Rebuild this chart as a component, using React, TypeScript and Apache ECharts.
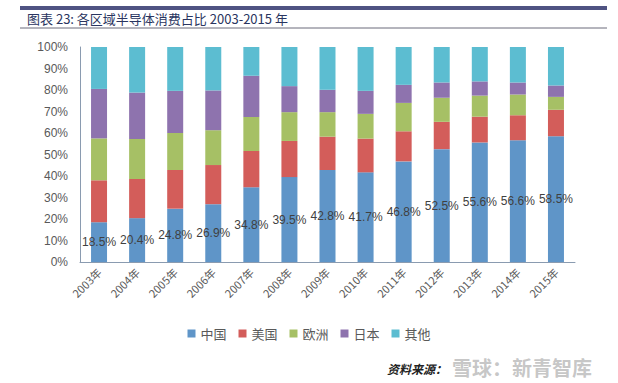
import React, { useEffect, useRef } from "react";
import * as echarts from "echarts";

const years = ["2003年", "2004年", "2005年", "2006年", "2007年", "2008年", "2009年", "2010年", "2011年", "2012年", "2013年", "2014年", "2015年"];
const china = [18.5, 20.4, 24.8, 26.9, 34.8, 39.5, 42.8, 41.7, 46.8, 52.5, 55.6, 56.6, 58.5];
const usa = [19.5, 18.2, 18.0, 18.2, 16.8, 16.8, 15.5, 15.7, 14.0, 12.7, 12.0, 11.7, 12.3];
const europe = [19.5, 18.6, 17.2, 16.2, 15.9, 13.4, 11.4, 11.5, 13.2, 11.2, 9.8, 9.6, 6.0];
const japan = [23.0, 21.6, 19.6, 18.5, 19.1, 12.1, 10.4, 10.7, 8.4, 7.1, 6.6, 5.6, 5.3];
const others = [19.5, 21.2, 20.4, 20.2, 13.4, 18.2, 19.9, 20.4, 17.6, 16.5, 16.0, 16.5, 17.9];
const seriesNames = ["中国", "美国", "欧洲", "日本", "其他"];
const yTicks = [0, 10, 20, 30, 40, 50, 60, 70, 80, 90, 100];

const colors = ["#5f95c8", "#d35d5a", "#a6c065", "#8e73ae", "#5cbdd1"];

export default function App() {
  const ref = useRef<HTMLDivElement>(null);
  useEffect(() => {
    document.body.style.margin = "0";
    const chart = echarts.init(ref.current!, null, { renderer: "svg" });
    const data = [china, usa, europe, japan, others];
    chart.setOption({
      animation: false,
      backgroundColor: "#ffffff",
      color: colors,
      grid: { left: 80, right: 43, top: 47, bottom: 121, containLabel: false },
      legend: {
        data: seriesNames,
        top: 322,
        left: "center",
        icon: "rect",
        itemWidth: 8,
        itemHeight: 8,
        itemGap: 12,
        textStyle: { color: "#595959", fontSize: 13, fontFamily: "Noto Sans CJK SC" },
      },
      xAxis: {
        type: "category",
        data: years,
        axisLine: { show: true, lineStyle: { color: "#8a9bb0", width: 1 } },
        axisTick: { show: false },
        axisLabel: {
          rotate: 45,
          color: "#595959",
          fontSize: 11,
          margin: 8,
          interval: 0,
          fontFamily: "Noto Sans CJK SC",
        },
      },
      yAxis: {
        type: "value",
        min: 0,
        max: 100,
        interval: 10,
        axisLine: { show: true, lineStyle: { color: "#8a9bb0", width: 1 } },
        axisTick: { show: false },
        splitLine: { show: false },
        axisLabel: {
          formatter: (v: number) => (yTicks.includes(v) ? v + "%" : ""),
          color: "#595959",
          fontSize: 12,
          margin: 12,
          fontFamily: "Liberation Sans",
        },
      },
      series: seriesNames.map((name, i) => ({
        name,
        type: "bar",
        stack: "total",
        barWidth: 16,
        data: data[i],
        itemStyle: { color: colors[i] },
        label:
          i === 0
            ? {
                show: true,
                position: "inside",
                formatter: (p: any) => p.value.toFixed(1) + "%",
                color: "#404040",
                fontSize: 12,
                fontFamily: "Liberation Sans",
              }
            : { show: false },
      })),
      graphic: [
        { type: "rect", shape: { x: 20, y: 6, width: 587, height: 4 }, style: { fill: "#4f5382" } },
        { type: "line", shape: { x1: 20, y1: 28, x2: 607, y2: 28 }, style: { stroke: "#6b6b7a", lineWidth: 1 } },
        {
          type: "text",
          x: 27,
          y: 12,
          style: {
            text: "图表 23: 各区域半导体消费占比 2003-2015 年",
            fill: "#2a3560",
            font: "13px 'Noto Sans CJK SC'",
          },
        },
        {
          type: "text",
          x: 387,
          y: 362,
          style: {
            text: "资料来源：",
            fill: "#222222",
            font: "italic bold 12px 'Noto Sans CJK SC'",
          },
        },
        {
          type: "text",
          x: 452,
          y: 357,
          style: {
            text: "雪球：新青智库",
            fill: "rgba(150,150,150,0.55)",
            font: "bold 20px 'Noto Sans CJK SC'",
          },
        },
      ],
    });
    return () => chart.dispose();
  }, []);
  return <div ref={ref} style={{ width: 618, height: 383 }} />;
}
